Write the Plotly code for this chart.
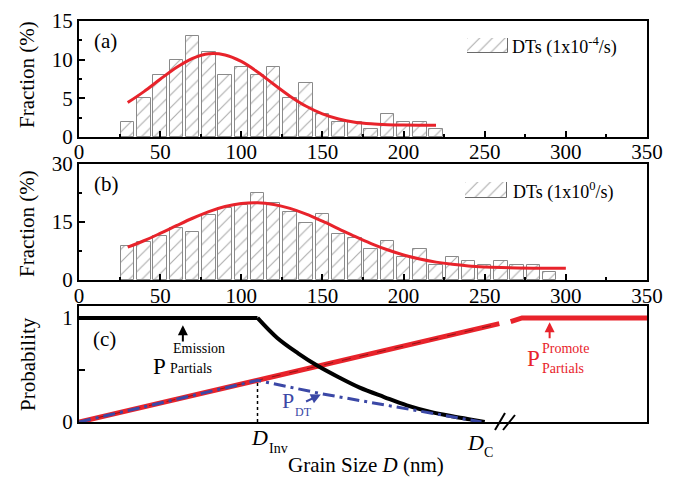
import plotly.graph_objects as go

# ---------------- data ----------------
bins_a = [30, 40, 50, 60, 70, 80, 90, 100, 110, 120, 130, 140, 150, 160, 170, 180, 190, 200, 210, 220]
frac_a = [2, 5, 8, 10, 13, 11, 8, 9, 8, 9, 5, 7, 3, 2, 2, 1, 3, 2, 2, 1]
fit_a = [4.45, 5.87, 7.46, 8.99, 10.18, 10.77, 10.61, 9.77, 8.41, 6.82, 5.28, 3.97, 2.99, 2.33, 1.92, 1.70, 1.59, 1.54, 1.52, 1.51]

bins_b = [30, 40, 50, 60, 70, 80, 90, 100, 110, 120, 130, 140, 150, 160, 170, 180, 190, 200, 210, 220,
          230, 240, 250, 260, 270, 280, 290]
frac_b = [8.7, 9.7, 11.3, 13.5, 12.5, 16.7, 18.7, 19.4, 22.6, 19.8, 17.5, 14.7, 17, 12, 10.8, 8, 10, 6, 8, 4,
          6, 5, 4, 5, 4, 4, 2]
fitx_b = [30, 40, 50, 60, 70, 80, 90, 100, 110, 120, 130, 140, 150, 160, 170, 180, 190, 200, 210, 220,
          230, 240, 250, 260, 270, 280, 290, 300]
fit_b = [8.5, 10.15, 12.05, 14.04, 15.97, 17.68, 19.0, 19.8, 20.0, 19.55, 18.52, 17.03, 15.2, 13.24, 11.27,
         9.43, 7.82, 6.48, 5.42, 4.62, 4.05, 3.65, 3.39, 3.22, 3.12, 3.06, 3.03, 3.01]

# panel (c)
emis_flat_x = [0, 110]
emis_flat_y = [1, 1]
emis_x = [110, 122, 135, 147, 160, 173, 188, 202, 216, 230, 241, 250]
emis_y = [1.0, 0.81, 0.66, 0.54, 0.43, 0.33, 0.24, 0.16, 0.10, 0.055, 0.025, 0.0]
prom1_x = [0, 259]
prom1_y = [0, 0.945]
prom2_x = [266, 273, 350]
prom2_y = [0.965, 1.0, 1.0]
dt_x = [0, 110, 150, 190, 210, 230, 248]
dt_y = [0, 0.40, 0.27, 0.16, 0.11, 0.05, 0.0]
d_inv = 110
d_inv_p = 0.40

x_ticks = [0, 50, 100, 150, 200, 250, 300, 350]

SERIF = "Liberation Serif"
RED = "#e8232b"
BLUE = "#3b48a6"
HATCH = dict(shape="/", fgcolor="#5e5e5e", bgcolor="white", size=9, solidity=0.13)

# layout geometry: page pixels (page body has an 8px offset)
OFF = 8
W, H = 682 - OFF, 485 - OFF
PL, PR, PT, PB = 79, 647, 21, 422          # plot area on the page
L, T = PL - OFF, PT - OFF
R = W - (PR - OFF)
B = H - (PB - OFF)
PW, PH = PR - PL, PB - PT


def px(xp):
    return (xp - PL) / PW


def py(yp):
    return (PB - yp) / PH


fig = go.Figure()

# ---- panel a ----
fig.add_trace(go.Bar(x=bins_a, y=frac_a, width=8.3, xaxis="x", yaxis="y",
                     marker=dict(color="white", pattern=HATCH, line=dict(color="#8a8a8a", width=1)),
                     showlegend=False))
fig.add_trace(go.Scatter(x=bins_a, y=fit_a, mode="lines", line=dict(color=RED, width=3, shape="spline"),
                         xaxis="x", yaxis="y", showlegend=False))
# ---- panel b ----
fig.add_trace(go.Bar(x=bins_b, y=frac_b, width=8.3, xaxis="x2", yaxis="y2",
                     marker=dict(color="white", pattern=HATCH, line=dict(color="#8a8a8a", width=1)),
                     showlegend=False))
fig.add_trace(go.Scatter(x=fitx_b, y=fit_b, mode="lines", line=dict(color=RED, width=3, shape="spline"),
                         xaxis="x2", yaxis="y2", showlegend=False))

# ---- panel c ----
fig.add_trace(go.Scatter(x=prom1_x, y=prom1_y, mode="lines", line=dict(color=RED, width=5),
                         xaxis="x3", yaxis="y3", showlegend=False))
fig.add_trace(go.Scatter(x=prom1_x, y=prom1_y, mode="lines", line=dict(color="rgba(60,0,0,0.5)", width=1, dash="dash"),
                         xaxis="x3", yaxis="y3", showlegend=False))
fig.add_trace(go.Scatter(x=prom2_x, y=prom2_y, mode="lines", line=dict(color=RED, width=5),
                         xaxis="x3", yaxis="y3", showlegend=False))
fig.add_trace(go.Scatter(x=emis_flat_x, y=emis_flat_y, mode="lines", line=dict(color="black", width=4),
                         xaxis="x3", yaxis="y3", showlegend=False))
fig.add_trace(go.Scatter(x=emis_x, y=emis_y, mode="lines", line=dict(color="black", width=4, shape="spline"),
                         xaxis="x3", yaxis="y3", showlegend=False))
fig.add_trace(go.Scatter(x=dt_x, y=dt_y, mode="lines", line=dict(color=BLUE, width=3, dash="12px,5px,3px,5px"),
                         xaxis="x3", yaxis="y3", showlegend=False))
fig.add_trace(go.Scatter(x=[d_inv, d_inv], y=[0, d_inv_p], mode="lines", line=dict(color="black", width=1.5, dash="dot"),
                         xaxis="x3", yaxis="y3", showlegend=False))

# ---- legend swatches (hatched boxes) ----
fig.add_trace(go.Bar(x=[0], y=[1], width=1, xaxis="x4", yaxis="y4", showlegend=False,
                     marker=dict(color="white", pattern=HATCH, line=dict(color="#6a6a6a", width=1))))
fig.add_trace(go.Bar(x=[0], y=[1], width=1, xaxis="x5", yaxis="y5", showlegend=False,
                     marker=dict(color="white", pattern=HATCH, line=dict(color="#6a6a6a", width=1))))

axis_common = dict(showline=True, linecolor="black", linewidth=2, mirror=True, ticks="inside",
                   tickcolor="black", tickwidth=1.5, ticklen=6, showgrid=False, zeroline=False,
                   automargin=False,
                   tickfont=dict(family=SERIF, size=21, color="black"))

dom_a = [py(137), py(21)]
dom_b = [py(280), py(164)]
dom_c = [0, py(306)]

fig.update_layout(
    width=W, height=H, margin=dict(l=L, r=R, t=T, b=B, autoexpand=False),
    paper_bgcolor="white", plot_bgcolor="white", bargap=0,
    font=dict(family=SERIF, color="black"),
    xaxis=dict(axis_common, domain=[0, 1], anchor="y", range=[0, 350], tickvals=x_ticks, ticklabelstandoff=-5,
               minor=dict(dtick=25, tick0=0, ticks="inside", ticklen=3, tickcolor="black")),
    yaxis=dict(axis_common, domain=dom_a, anchor="x", range=[0, 15], tickvals=[0, 5, 10, 15],
               minor=dict(dtick=2.5, tick0=0, ticks="inside", ticklen=3, tickcolor="black")),
    xaxis2=dict(axis_common, domain=[0, 1], anchor="y2", range=[0, 350], tickvals=x_ticks, ticklabelstandoff=-4,
                minor=dict(dtick=25, tick0=0, ticks="inside", ticklen=3, tickcolor="black")),
    yaxis2=dict(axis_common, domain=dom_b, anchor="x2", range=[0, 30], tickvals=[0, 15, 30],
                minor=dict(dtick=7.5, tick0=0, ticks="inside", ticklen=3, tickcolor="black")),
    xaxis3=dict(axis_common, domain=[0, 1], anchor="y3", range=[0, 350], showticklabels=False, ticks=""),
    yaxis3=dict(axis_common, domain=dom_c, anchor="x3", range=[0, 1.115], tickvals=[0, 0.5, 1],
                ticktext=["0", "", "1"]),
    xaxis4=dict(domain=[px(467), px(508)], anchor="y4", range=[-0.5, 0.5], visible=False),
    yaxis4=dict(domain=[py(53), py(38)], anchor="x4", range=[0, 1], visible=False),
    xaxis5=dict(domain=[px(465), px(507)], anchor="y5", range=[-0.5, 0.5], visible=False),
    yaxis5=dict(domain=[py(198), py(182)], anchor="x5", range=[0, 1], visible=False),
)

ann = []


def txt(x, y, text, size=20, xanchor="center", yanchor="middle", color="black", angle=0):
    ann.append(dict(x=px(x), y=py(y), xref="paper", yref="paper", text=text, showarrow=False,
                    xanchor=xanchor, yanchor=yanchor, textangle=angle,
                    font=dict(family=SERIF, size=size, color=color)))


# panel labels
txt(92, 41, "(a)", 21, xanchor="left")
txt(92, 184, "(b)", 21, xanchor="left")
txt(91, 339, "(c)", 21, xanchor="left")
# axis titles
txt(27, 75, "Fraction (%)", 21, angle=-90)
txt(27, 224, "Fraction (%)", 21, angle=-90)
txt(28, 364, "Probability", 21, angle=-90)
txt(366, 465, "Grain Size <i>D</i> (nm)", 21)
# legend texts
txt(510, 46, "DTs (1x10<sup>-4</sup>/s)", 18, xanchor="left")
txt(511, 191, "DTs (1x10<sup>0</sup>/s)", 18, xanchor="left")
# P emission
txt(159, 366, "P", 23)
txt(171, 348, "Emission", 14, xanchor="left")
txt(168, 368, "Partials", 14, xanchor="left")
# P promote
txt(533, 358, "P", 23, color=RED)
txt(540, 348, "Promote", 14, xanchor="left", color=RED)
txt(540, 368, "Partials", 14, xanchor="left", color=RED)
# P DT
txt(288, 400, "P", 22, color=BLUE)
txt(293, 412, "DT", 12, xanchor="left", color=BLUE)
# D labels
txt(259, 437, "<i>D</i>", 22)
txt(267, 448, "Inv", 14, xanchor="left")
txt(475, 442, "<i>D</i>", 22)
txt(482, 452, "C", 14, xanchor="left")

# arrows (data coords of panel c)
for (x0, y0, x1, y1, col) in [(64, 0.76, 64, 0.93, "black"), (290, 0.79, 290, 0.96, RED),
                              (139, 0.19, 149, 0.265, BLUE)]:
    ann.append(dict(x=x1, y=y1, ax=x0, ay=y0, xref="x3", yref="y3", axref="x3", ayref="y3",
                    text="", showarrow=True, arrowhead=2, arrowsize=1, arrowwidth=2, arrowcolor=col))

fig.update_layout(annotations=ann)

# axis break marks on panel c
shapes = []
for (xa, ya, xb, yb) in [(495, 430, 505, 413), (503, 430, 515, 415)]:
    shapes.append(dict(type="line", xref="paper", yref="paper", x0=px(xa), y0=py(ya), x1=px(xb), y1=py(yb),
                       line=dict(color="black", width=2)))
fig.update_layout(shapes=shapes)

fig.write_html("out.html")
